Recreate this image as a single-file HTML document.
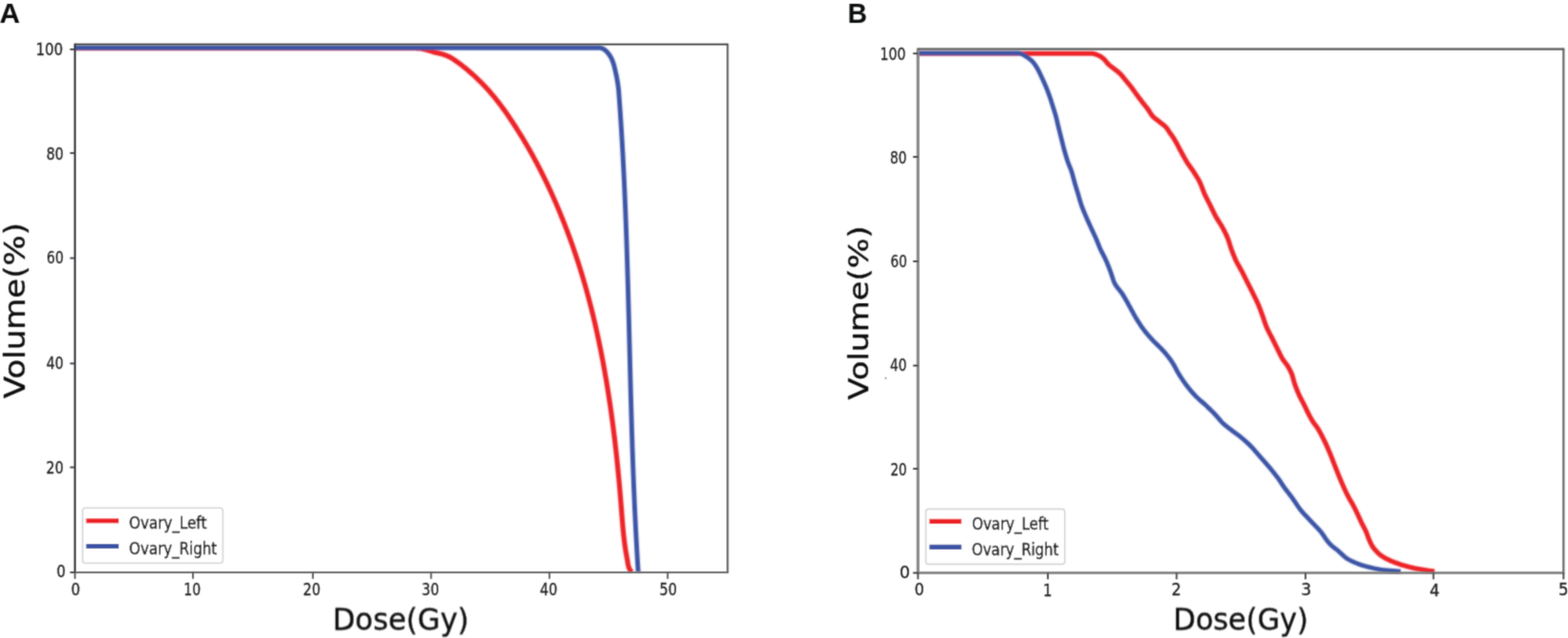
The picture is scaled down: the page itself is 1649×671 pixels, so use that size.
<!DOCTYPE html>
<html><head><meta charset="utf-8"><title>DVH</title>
<style>
html,body{margin:0;padding:0;background:#fff;}
body{width:1649px;height:671px;overflow:hidden;}
svg{display:block;}
</style></head>
<body>
<svg width="1649" height="671" viewBox="0 0 1649 671">
<defs>
<filter id="bl" filterUnits="userSpaceOnUse" x="0" y="0" width="1649" height="671"><feConvolveMatrix order="3" kernelMatrix="1 4 1 4 16 4 1 4 1" divisor="36" edgeMode="none" preserveAlpha="false"/></filter>
<filter id="cb" filterUnits="userSpaceOnUse" x="0" y="0" width="1649" height="671"><feConvolveMatrix order="5" kernelMatrix="1 6 15 6 1 6 36 90 36 6 15 90 225 90 15 6 36 90 36 6 1 6 15 6 1" divisor="841" edgeMode="none" preserveAlpha="false"/></filter>
</defs>
<rect x="0" y="0" width="1649" height="671" fill="#fff"/>
<clipPath id="clA"><rect x="78.8" y="46.6" width="686.4" height="555.4"/></clipPath>
<clipPath id="clB"><rect x="965.4" y="51.6" width="678.9" height="550.9"/></clipPath>
<g id="curves" filter="url(#cb)">
<g clip-path="url(#clA)"><path d="M78.70,50.70 L425.00,50.70 L425.00,50.70 L426.50,50.70 L428.00,50.70 L429.50,50.70 L431.00,50.70 L432.50,50.70 L434.00,50.70 L435.50,50.72 L437.01,50.76 L438.51,50.80 L440.00,50.86 L441.49,50.93 L442.96,51.11 L444.43,51.40 L445.90,51.76 L447.36,52.17 L448.81,52.58 L450.26,52.97 L451.70,53.38 L453.14,53.83 L454.57,54.29 L456.00,54.74 L457.44,55.15 L458.89,55.51 L460.36,55.81 L461.84,56.11 L463.30,56.43 L464.75,56.80 L466.20,57.23 L467.63,57.70 L469.04,58.21 L470.41,58.78 L471.75,59.40 L473.07,60.09 L474.37,60.83 L475.66,61.62 L476.93,62.44 L478.19,63.28 L479.44,64.14 L480.68,65.00 L481.91,65.86 L483.13,66.72 L484.33,67.63 L485.51,68.55 L486.69,69.49 L487.86,70.42 L489.03,71.36 L490.19,72.31 L491.34,73.27 L492.49,74.24 L493.63,75.21 L494.76,76.20 L495.89,77.19 L497.01,78.19 L498.12,79.19 L499.22,80.21 L500.32,81.23 L501.41,82.26 L502.49,83.29 L503.57,84.34 L504.64,85.39 L505.70,86.45 L506.76,87.52 L507.80,88.59 L508.84,89.67 L509.87,90.76 L510.90,91.86 L511.91,92.96 L512.92,94.07 L513.92,95.19 L514.92,96.31 L515.90,97.44 L516.88,98.58 L517.85,99.72 L518.81,100.87 L519.77,102.03 L520.72,103.19 L521.66,104.36 L522.59,105.53 L523.51,106.71 L524.43,107.90 L525.34,109.09 L526.25,110.28 L527.15,111.49 L528.04,112.69 L528.92,113.90 L529.80,115.12 L530.68,116.34 L531.54,117.56 L532.41,118.79 L533.26,120.02 L534.12,121.25 L534.96,122.49 L535.81,123.73 L536.64,124.97 L537.48,126.22 L538.31,127.47 L539.14,128.72 L539.96,129.97 L540.78,131.23 L541.60,132.49 L542.41,133.75 L543.22,135.01 L544.02,136.27 L544.82,137.54 L545.62,138.81 L546.41,140.08 L547.20,141.36 L547.99,142.64 L548.77,143.92 L549.55,145.20 L550.33,146.48 L551.10,147.77 L551.86,149.06 L552.63,150.35 L553.39,151.64 L554.14,152.94 L554.90,154.23 L555.64,155.53 L556.39,156.83 L557.13,158.14 L557.87,159.44 L558.60,160.75 L559.33,162.06 L560.06,163.37 L560.78,164.69 L561.50,166.00 L562.21,167.32 L562.93,168.64 L563.63,169.96 L564.34,171.29 L565.04,172.61 L565.73,173.94 L566.43,175.27 L567.12,176.60 L567.80,177.94 L568.49,179.27 L569.16,180.61 L569.84,181.95 L570.51,183.29 L571.18,184.63 L571.84,185.98 L572.50,187.32 L573.16,188.67 L573.82,190.02 L574.47,191.37 L575.11,192.73 L575.76,194.08 L576.40,195.44 L577.03,196.79 L577.67,198.15 L578.30,199.51 L578.92,200.88 L579.55,202.24 L580.17,203.61 L580.78,204.97 L581.40,206.34 L582.01,207.71 L582.61,209.08 L583.22,210.46 L583.82,211.83 L584.42,213.21 L585.01,214.58 L585.60,215.96 L586.19,217.34 L586.77,218.72 L587.36,220.10 L587.94,221.49 L588.51,222.87 L589.08,224.26 L589.65,225.65 L590.22,227.03 L590.78,228.42 L591.34,229.81 L591.90,231.21 L592.45,232.60 L593.01,234.00 L593.55,235.39 L594.10,236.79 L594.64,238.19 L595.18,239.59 L595.72,240.99 L596.25,242.39 L596.78,243.79 L597.30,245.20 L597.83,246.60 L598.35,248.01 L598.87,249.42 L599.38,250.82 L599.89,252.23 L600.40,253.64 L600.91,255.06 L601.41,256.47 L601.91,257.88 L602.40,259.30 L602.90,260.71 L603.39,262.13 L603.88,263.55 L604.36,264.97 L604.84,266.39 L605.32,267.81 L605.80,269.23 L606.27,270.66 L606.74,272.08 L607.20,273.51 L607.67,274.93 L608.13,276.36 L608.59,277.79 L609.04,279.22 L609.49,280.65 L609.94,282.08 L610.39,283.51 L610.83,284.94 L611.27,286.38 L611.71,287.81 L612.14,289.25 L612.58,290.68 L613.01,292.12 L613.43,293.56 L613.85,295.00 L614.28,296.43 L614.69,297.87 L615.11,299.32 L615.52,300.76 L615.93,302.20 L616.34,303.64 L616.74,305.09 L617.14,306.53 L617.54,307.98 L617.93,309.43 L618.33,310.87 L618.72,312.32 L619.10,313.77 L619.49,315.22 L619.87,316.67 L620.25,318.12 L620.63,319.57 L621.00,321.02 L621.37,322.48 L621.74,323.93 L622.11,325.39 L622.47,326.84 L622.83,328.30 L623.19,329.75 L623.54,331.21 L623.90,332.67 L624.25,334.13 L624.60,335.58 L624.94,337.04 L625.29,338.50 L625.63,339.96 L625.96,341.42 L626.30,342.89 L626.63,344.35 L626.96,345.81 L627.29,347.27 L627.62,348.74 L627.94,350.20 L628.26,351.67 L628.58,353.13 L628.90,354.60 L629.21,356.07 L629.52,357.53 L629.83,359.00 L630.14,360.47 L630.44,361.94 L630.74,363.41 L631.04,364.87 L631.34,366.34 L631.64,367.82 L631.93,369.29 L632.22,370.76 L632.51,372.23 L632.80,373.70 L633.08,375.17 L633.36,376.65 L633.64,378.12 L633.92,379.59 L634.20,381.07 L634.47,382.54 L634.74,384.02 L635.01,385.49 L635.28,386.97 L635.55,388.44 L635.81,389.92 L636.07,391.40 L636.33,392.87 L636.59,394.35 L636.85,395.83 L637.10,397.31 L637.35,398.78 L637.60,400.26 L637.85,401.74 L638.10,403.22 L638.34,404.70 L638.58,406.18 L638.82,407.66 L639.06,409.14 L639.30,410.62 L639.53,412.10 L639.77,413.59 L640.00,415.07 L640.23,416.55 L640.45,418.03 L640.68,419.51 L640.90,421.00 L641.13,422.48 L641.35,423.96 L641.57,425.45 L641.78,426.93 L642.00,428.42 L642.21,429.90 L642.42,431.38 L642.63,432.87 L642.84,434.35 L643.05,435.84 L643.25,437.33 L643.46,438.81 L643.66,440.30 L643.86,441.78 L644.06,443.27 L644.26,444.76 L644.45,446.24 L644.64,447.73 L644.84,449.22 L645.03,450.71 L645.21,452.19 L645.40,453.68 L645.59,455.17 L645.77,456.66 L645.95,458.15 L646.13,459.63 L646.31,461.12 L646.49,462.61 L646.67,464.10 L646.84,465.59 L647.02,467.08 L647.19,468.57 L647.36,470.06 L647.53,471.55 L647.69,473.04 L647.86,474.53 L648.02,476.02 L648.19,477.51 L648.35,479.00 L648.51,480.50 L648.67,481.99 L648.83,483.48 L648.98,484.97 L649.14,486.46 L649.29,487.95 L649.44,489.45 L649.59,490.94 L649.74,492.43 L649.89,493.92 L650.04,495.41 L650.18,496.91 L650.32,498.40 L650.47,499.89 L650.61,501.39 L650.75,502.88 L650.89,504.37 L651.02,505.87 L651.16,507.36 L651.30,508.85 L651.43,510.35 L651.56,511.84 L651.69,513.33 L651.82,514.83 L651.95,516.32 L652.08,517.82 L652.21,519.31 L652.33,520.80 L652.46,522.30 L652.58,523.79 L652.70,525.29 L652.83,526.78 L652.95,528.28 L653.07,529.77 L653.18,531.27 L653.30,532.76 L653.42,534.26 L653.53,535.75 L653.65,537.25 L653.76,538.74 L653.88,540.24 L653.99,541.73 L654.11,543.23 L654.22,544.73 L654.34,546.22 L654.46,547.71 L654.59,549.21 L654.71,550.70 L654.84,552.20 L654.97,553.69 L655.11,555.19 L655.24,556.68 L655.39,558.17 L655.53,559.66 L655.68,561.16 L655.84,562.65 L656.00,564.14 L656.17,565.63 L656.34,567.12 L656.52,568.61 L656.70,570.10 L656.90,571.58 L657.10,573.07 L657.30,574.56 L657.52,576.04 L657.74,577.52 L657.97,579.00 L658.21,580.49 L658.46,581.96 L658.71,583.44 L658.98,584.92 L659.25,586.39 L659.55,587.86 L659.83,589.34 L660.06,590.82 L660.29,592.31 L660.54,593.79 L660.86,595.24 L661.29,596.70 L661.85,598.12 L662.53,599.41 L663.45,600.56 L664.60,601.60" fill="none" stroke="#ed2227" stroke-width="5.2" stroke-linejoin="round" stroke-linecap="butt"/>
<path d="M78.70,50.30 L619.00,50.30 L619.00,50.30 L620.50,50.30 L621.99,50.30 L623.49,50.30 L624.99,50.30 L626.49,50.30 L628.00,50.30 L629.50,50.30 L630.98,50.30 L632.45,50.57 L633.86,51.14 L635.16,51.84 L636.37,52.76 L637.49,53.75 L638.54,54.82 L639.52,55.98 L640.42,57.16 L641.28,58.40 L642.08,59.68 L642.80,60.99 L643.43,62.33 L644.00,63.71 L644.54,65.12 L645.03,66.55 L645.47,67.98 L645.88,69.41 L646.25,70.86 L646.59,72.32 L646.92,73.79 L647.26,75.25 L647.60,76.71 L647.93,78.17 L648.25,79.63 L648.54,81.10 L648.81,82.57 L649.07,84.04 L649.32,85.52 L649.56,87.00 L649.78,88.48 L650.00,89.97 L650.20,91.45 L650.38,92.94 L650.54,94.43 L650.67,95.92 L650.78,97.41 L650.89,98.91 L651.00,100.40 L651.11,101.89 L651.22,103.39 L651.33,104.88 L651.44,106.37 L651.55,107.87 L651.66,109.36 L651.76,110.85 L651.87,112.35 L651.97,113.84 L652.08,115.33 L652.18,116.83 L652.28,118.32 L652.39,119.82 L652.49,121.31 L652.59,122.80 L652.69,124.30 L652.79,125.79 L652.88,127.29 L652.98,128.78 L653.08,130.28 L653.17,131.77 L653.27,133.27 L653.36,134.76 L653.46,136.25 L653.55,137.75 L653.64,139.24 L653.73,140.74 L653.82,142.23 L653.91,143.73 L654.00,145.22 L654.09,146.72 L654.18,148.21 L654.27,149.71 L654.35,151.20 L654.44,152.70 L654.52,154.19 L654.61,155.69 L654.69,157.18 L654.78,158.68 L654.86,160.17 L654.94,161.67 L655.02,163.16 L655.10,164.66 L655.18,166.15 L655.26,167.65 L655.34,169.14 L655.42,170.64 L655.50,172.14 L655.57,173.63 L655.65,175.13 L655.73,176.62 L655.80,178.12 L655.88,179.61 L655.95,181.11 L656.02,182.60 L656.10,184.10 L656.17,185.60 L656.24,187.09 L656.31,188.59 L656.38,190.08 L656.45,191.58 L656.52,193.07 L656.59,194.57 L656.66,196.07 L656.73,197.56 L656.79,199.06 L656.86,200.55 L656.93,202.05 L656.99,203.55 L657.06,205.04 L657.12,206.54 L657.19,208.03 L657.25,209.53 L657.31,211.03 L657.38,212.52 L657.44,214.02 L657.50,215.52 L657.56,217.01 L657.62,218.51 L657.68,220.00 L657.74,221.50 L657.80,223.00 L657.86,224.49 L657.92,225.99 L657.98,227.49 L658.04,228.98 L658.09,230.48 L658.15,231.97 L658.21,233.47 L658.26,234.97 L658.32,236.46 L658.37,237.96 L658.43,239.46 L658.48,240.95 L658.54,242.45 L658.59,243.95 L658.64,245.44 L658.70,246.94 L658.75,248.44 L658.80,249.93 L658.85,251.43 L658.91,252.93 L658.96,254.42 L659.01,255.92 L659.06,257.42 L659.11,258.91 L659.16,260.41 L659.21,261.91 L659.26,263.40 L659.30,264.90 L659.35,266.40 L659.40,267.89 L659.45,269.39 L659.50,270.89 L659.54,272.38 L659.59,273.88 L659.64,275.38 L659.68,276.87 L659.73,278.37 L659.78,279.87 L659.82,281.36 L659.87,282.86 L659.91,284.36 L659.96,285.85 L660.00,287.35 L660.04,288.85 L660.09,290.34 L660.13,291.84 L660.18,293.34 L660.22,294.83 L660.26,296.33 L660.30,297.83 L660.35,299.32 L660.39,300.82 L660.43,302.32 L660.47,303.82 L660.52,305.31 L660.56,306.81 L660.60,308.31 L660.64,309.80 L660.68,311.30 L660.72,312.80 L660.76,314.29 L660.80,315.79 L660.84,317.29 L660.88,318.78 L660.92,320.28 L660.96,321.78 L661.00,323.28 L661.04,324.77 L661.08,326.27 L661.12,327.77 L661.16,329.26 L661.20,330.76 L661.24,332.26 L661.28,333.75 L661.32,335.25 L661.36,336.75 L661.40,338.25 L661.44,339.74 L661.47,341.24 L661.51,342.74 L661.55,344.23 L661.59,345.73 L661.63,347.23 L661.67,348.72 L661.70,350.22 L661.74,351.72 L661.78,353.21 L661.82,354.71 L661.86,356.21 L661.89,357.71 L661.93,359.20 L661.97,360.70 L662.01,362.20 L662.05,363.69 L662.08,365.19 L662.12,366.69 L662.16,368.18 L662.20,369.68 L662.24,371.18 L662.27,372.68 L662.31,374.17 L662.35,375.67 L662.39,377.17 L662.43,378.66 L662.46,380.16 L662.50,381.66 L662.54,383.15 L662.58,384.65 L662.62,386.15 L662.66,387.65 L662.69,389.14 L662.73,390.64 L662.77,392.14 L662.81,393.63 L662.85,395.13 L662.89,396.63 L662.93,398.12 L662.97,399.62 L663.01,401.12 L663.04,402.62 L663.08,404.11 L663.12,405.61 L663.16,407.11 L663.20,408.60 L663.24,410.10 L663.28,411.60 L663.32,413.09 L663.36,414.59 L663.40,416.09 L663.45,417.58 L663.49,419.08 L663.53,420.58 L663.57,422.08 L663.61,423.57 L663.65,425.07 L663.69,426.57 L663.74,428.06 L663.78,429.56 L663.82,431.06 L663.86,432.55 L663.91,434.05 L663.95,435.55 L663.99,437.04 L664.04,438.54 L664.08,440.04 L664.12,441.53 L664.17,443.03 L664.21,444.53 L664.26,446.02 L664.30,447.52 L664.35,449.02 L664.39,450.52 L664.44,452.01 L664.48,453.51 L664.53,455.01 L664.58,456.50 L664.62,458.00 L664.67,459.50 L664.72,460.99 L664.77,462.49 L664.81,463.99 L664.86,465.48 L664.91,466.98 L664.96,468.48 L665.01,469.97 L665.06,471.47 L665.11,472.97 L665.16,474.46 L665.21,475.96 L665.26,477.46 L665.31,478.95 L665.36,480.45 L665.42,481.95 L665.47,483.44 L665.52,484.94 L665.58,486.44 L665.63,487.93 L665.68,489.43 L665.74,490.92 L665.79,492.42 L665.85,493.92 L665.90,495.41 L665.96,496.91 L666.02,498.41 L666.07,499.90 L666.13,501.40 L666.19,502.90 L666.25,504.39 L666.30,505.89 L666.36,507.38 L666.42,508.88 L666.48,510.38 L666.54,511.87 L666.60,513.37 L666.67,514.87 L666.73,516.36 L666.79,517.86 L666.85,519.35 L666.92,520.85 L666.98,522.35 L667.04,523.84 L667.11,525.34 L667.17,526.84 L667.24,528.33 L667.30,529.83 L667.37,531.32 L667.44,532.82 L667.51,534.32 L667.58,535.81 L667.64,537.31 L667.71,538.80 L667.78,540.30 L667.85,541.79 L667.93,543.29 L668.00,544.79 L668.07,546.28 L668.14,547.78 L668.22,549.27 L668.29,550.77 L668.36,552.26 L668.44,553.76 L668.51,555.26 L668.59,556.75 L668.67,558.25 L668.75,559.74 L668.82,561.24 L668.90,562.73 L668.98,564.23 L669.06,565.72 L669.14,567.22 L669.22,568.71 L669.30,570.21 L669.39,571.70 L669.47,573.20 L669.55,574.69 L669.64,576.19 L669.72,577.68 L669.81,579.18 L669.90,580.67 L669.98,582.17 L670.07,583.66 L670.16,585.16 L670.25,586.65 L670.34,588.15 L670.43,589.64 L670.52,591.14 L670.61,592.63 L670.71,594.13 L670.80,595.62 L670.89,597.12 L670.99,598.61 L671.08,600.11 L671.18,601.60" fill="none" stroke="#3a53a5" stroke-width="4.9" stroke-linejoin="round" stroke-linecap="butt"/></g>
<g clip-path="url(#clB)"><path d="M965.50,56.20 L1136.00,56.20 L1136.00,56.20 L1137.50,56.20 L1139.00,56.20 L1140.49,56.20 L1141.99,56.20 L1143.49,56.20 L1145.00,56.20 L1146.50,56.20 L1147.98,56.20 L1149.46,56.34 L1150.94,56.70 L1152.38,57.18 L1153.79,57.70 L1155.16,58.26 L1156.52,58.94 L1157.83,59.72 L1159.08,60.57 L1160.23,61.45 L1161.29,62.47 L1162.28,63.61 L1163.23,64.79 L1164.20,65.98 L1165.20,67.11 L1166.28,68.13 L1167.42,69.09 L1168.60,70.02 L1169.79,70.93 L1170.99,71.84 L1172.17,72.77 L1173.37,73.68 L1174.57,74.59 L1175.76,75.51 L1176.90,76.47 L1177.98,77.48 L1179.01,78.56 L1179.99,79.69 L1180.94,80.85 L1181.88,82.03 L1182.81,83.21 L1183.76,84.37 L1184.72,85.52 L1185.68,86.67 L1186.64,87.82 L1187.60,88.98 L1188.54,90.15 L1189.46,91.32 L1190.37,92.51 L1191.25,93.72 L1192.13,94.94 L1192.99,96.16 L1193.86,97.39 L1194.73,98.61 L1195.61,99.82 L1196.51,101.02 L1197.40,102.22 L1198.31,103.41 L1199.21,104.61 L1200.12,105.80 L1201.03,106.99 L1201.95,108.18 L1202.87,109.35 L1203.81,110.52 L1204.75,111.70 L1205.67,112.87 L1206.59,114.06 L1207.47,115.26 L1208.31,116.51 L1209.11,117.80 L1209.90,119.10 L1210.71,120.36 L1211.59,121.54 L1212.57,122.62 L1213.66,123.62 L1214.81,124.58 L1216.01,125.51 L1217.22,126.42 L1218.42,127.35 L1219.59,128.30 L1220.78,129.23 L1221.99,130.15 L1223.18,131.07 L1224.35,132.02 L1225.44,133.02 L1226.45,134.08 L1227.36,135.24 L1228.22,136.47 L1229.04,137.74 L1229.87,139.01 L1230.72,140.25 L1231.59,141.47 L1232.48,142.68 L1233.34,143.91 L1234.18,145.14 L1234.97,146.41 L1235.73,147.69 L1236.47,149.00 L1237.19,150.31 L1237.89,151.63 L1238.59,152.96 L1239.28,154.30 L1239.98,155.62 L1240.69,156.95 L1241.41,158.26 L1242.12,159.58 L1242.83,160.90 L1243.54,162.22 L1244.25,163.55 L1244.97,164.86 L1245.69,166.17 L1246.43,167.47 L1247.19,168.76 L1247.97,170.04 L1248.78,171.29 L1249.62,172.53 L1250.48,173.76 L1251.35,174.98 L1252.22,176.21 L1253.09,177.43 L1253.95,178.66 L1254.79,179.90 L1255.60,181.16 L1256.40,182.42 L1257.20,183.69 L1258.00,184.97 L1258.79,186.25 L1259.56,187.54 L1260.30,188.84 L1261.02,190.15 L1261.70,191.48 L1262.33,192.83 L1262.92,194.19 L1263.48,195.58 L1264.02,196.98 L1264.55,198.39 L1265.08,199.80 L1265.62,201.20 L1266.18,202.59 L1266.77,203.97 L1267.40,205.32 L1268.05,206.67 L1268.71,208.01 L1269.39,209.35 L1270.08,210.68 L1270.77,212.02 L1271.46,213.35 L1272.14,214.68 L1272.81,216.02 L1273.47,217.37 L1274.12,218.72 L1274.77,220.07 L1275.42,221.42 L1276.08,222.77 L1276.74,224.11 L1277.41,225.45 L1278.10,226.78 L1278.82,228.09 L1279.56,229.39 L1280.34,230.67 L1281.13,231.94 L1281.93,233.21 L1282.74,234.48 L1283.54,235.75 L1284.33,237.02 L1285.08,238.31 L1285.81,239.62 L1286.52,240.94 L1287.21,242.27 L1287.90,243.60 L1288.58,244.95 L1289.23,246.30 L1289.86,247.66 L1290.47,249.03 L1291.04,250.41 L1291.58,251.80 L1292.08,253.20 L1292.55,254.63 L1293.00,256.06 L1293.44,257.49 L1293.89,258.93 L1294.36,260.35 L1294.85,261.77 L1295.37,263.17 L1295.89,264.58 L1296.42,265.98 L1296.97,267.38 L1297.53,268.77 L1298.10,270.16 L1298.69,271.54 L1299.29,272.90 L1299.92,274.26 L1300.57,275.60 L1301.27,276.92 L1301.98,278.24 L1302.72,279.55 L1303.46,280.85 L1304.20,282.16 L1304.94,283.47 L1305.66,284.78 L1306.36,286.11 L1307.05,287.44 L1307.73,288.77 L1308.40,290.11 L1309.07,291.45 L1309.74,292.79 L1310.41,294.13 L1311.08,295.47 L1311.75,296.81 L1312.43,298.15 L1313.10,299.48 L1313.78,300.82 L1314.46,302.15 L1315.14,303.49 L1315.82,304.82 L1316.49,306.16 L1317.16,307.50 L1317.83,308.84 L1318.49,310.19 L1319.15,311.53 L1319.81,312.88 L1320.47,314.23 L1321.13,315.58 L1321.77,316.93 L1322.40,318.29 L1323.01,319.66 L1323.60,321.03 L1324.16,322.41 L1324.71,323.81 L1325.25,325.21 L1325.77,326.61 L1326.29,328.02 L1326.80,329.43 L1327.31,330.84 L1327.83,332.24 L1328.32,333.66 L1328.81,335.08 L1329.28,336.51 L1329.76,337.93 L1330.24,339.35 L1330.73,340.76 L1331.25,342.17 L1331.80,343.55 L1332.38,344.92 L1333.01,346.28 L1333.66,347.63 L1334.34,348.96 L1335.03,350.30 L1335.73,351.62 L1336.43,352.95 L1337.13,354.28 L1337.81,355.62 L1338.48,356.96 L1339.14,358.30 L1339.81,359.65 L1340.47,360.99 L1341.13,362.33 L1341.80,363.68 L1342.46,365.02 L1343.13,366.36 L1343.80,367.70 L1344.46,369.05 L1345.11,370.40 L1345.76,371.76 L1346.41,373.11 L1347.09,374.45 L1347.78,375.77 L1348.52,377.07 L1349.32,378.32 L1350.19,379.54 L1351.10,380.74 L1352.02,381.93 L1352.94,383.13 L1353.81,384.35 L1354.60,385.60 L1355.35,386.90 L1356.08,388.21 L1356.78,389.55 L1357.44,390.90 L1358.06,392.27 L1358.61,393.66 L1359.09,395.06 L1359.51,396.49 L1359.90,397.95 L1360.28,399.40 L1360.68,400.85 L1361.12,402.28 L1361.60,403.70 L1362.09,405.12 L1362.60,406.53 L1363.12,407.94 L1363.66,409.34 L1364.22,410.73 L1364.79,412.12 L1365.37,413.49 L1365.97,414.86 L1366.60,416.21 L1367.26,417.56 L1367.93,418.90 L1368.62,420.23 L1369.31,421.56 L1370.01,422.89 L1370.70,424.22 L1371.38,425.56 L1372.04,426.90 L1372.70,428.25 L1373.35,429.60 L1374.00,430.95 L1374.65,432.30 L1375.31,433.65 L1375.98,434.99 L1376.66,436.32 L1377.37,437.64 L1378.09,438.95 L1378.82,440.26 L1379.57,441.56 L1380.35,442.84 L1381.15,444.11 L1381.98,445.35 L1382.89,446.54 L1383.82,447.72 L1384.73,448.91 L1385.56,450.15 L1386.34,451.42 L1387.11,452.71 L1387.85,454.01 L1388.57,455.33 L1389.28,456.66 L1389.97,457.99 L1390.65,459.33 L1391.33,460.66 L1392.00,462.00 L1392.66,463.34 L1393.31,464.69 L1393.95,466.05 L1394.59,467.41 L1395.21,468.77 L1395.82,470.14 L1396.43,471.51 L1397.03,472.88 L1397.63,474.26 L1398.21,475.63 L1398.78,477.02 L1399.35,478.40 L1399.90,479.80 L1400.45,481.19 L1400.99,482.59 L1401.53,483.99 L1402.07,485.38 L1402.61,486.78 L1403.16,488.18 L1403.71,489.57 L1404.26,490.96 L1404.82,492.36 L1405.37,493.75 L1405.92,495.14 L1406.47,496.54 L1407.02,497.93 L1407.58,499.32 L1408.14,500.71 L1408.71,502.09 L1409.28,503.48 L1409.87,504.86 L1410.45,506.23 L1411.04,507.61 L1411.64,508.99 L1412.23,510.37 L1412.84,511.74 L1413.45,513.11 L1414.07,514.47 L1414.69,515.83 L1415.33,517.19 L1415.98,518.54 L1416.64,519.88 L1417.32,521.21 L1418.03,522.53 L1418.75,523.84 L1419.49,525.15 L1420.23,526.45 L1420.98,527.75 L1421.72,529.05 L1422.47,530.36 L1423.19,531.66 L1423.91,532.98 L1424.60,534.31 L1425.27,535.64 L1425.93,536.99 L1426.58,538.34 L1427.21,539.70 L1427.84,541.06 L1428.46,542.42 L1429.09,543.78 L1429.71,545.15 L1430.34,546.51 L1430.97,547.87 L1431.62,549.22 L1432.28,550.56 L1432.96,551.90 L1433.66,553.23 L1434.36,554.55 L1435.05,555.88 L1435.72,557.22 L1436.36,558.58 L1436.94,559.95 L1437.49,561.34 L1438.01,562.75 L1438.52,564.16 L1439.05,565.57 L1439.60,566.96 L1440.19,568.33 L1440.81,569.70 L1441.45,571.07 L1442.12,572.42 L1442.83,573.74 L1443.60,575.00 L1444.45,576.22 L1445.38,577.40 L1446.36,578.55 L1447.39,579.66 L1448.42,580.73 L1449.49,581.79 L1450.61,582.81 L1451.76,583.77 L1452.95,584.65 L1454.19,585.46 L1455.47,586.23 L1456.79,586.97 L1458.13,587.67 L1459.48,588.34 L1460.84,588.99 L1462.19,589.62 L1463.56,590.22 L1464.94,590.80 L1466.33,591.36 L1467.74,591.90 L1469.14,592.42 L1470.55,592.92 L1471.97,593.40 L1473.40,593.85 L1474.83,594.29 L1476.27,594.72 L1477.71,595.13 L1479.16,595.53 L1480.60,595.93 L1482.05,596.31 L1483.50,596.69 L1484.96,597.05 L1486.41,597.39 L1487.88,597.71 L1489.34,598.01 L1490.81,598.30 L1492.29,598.57 L1493.76,598.83 L1495.24,599.08 L1496.72,599.31 L1498.20,599.54 L1499.68,599.76 L1501.17,599.97 L1502.65,600.17 L1504.13,600.37 L1505.62,600.56 L1507.11,600.73 L1508.60,600.90" fill="none" stroke="#ed2227" stroke-width="5.0" stroke-linejoin="round" stroke-linecap="butt"/>
<path d="M965.50,55.80 L1059.00,55.80 L1059.00,55.80 L1060.50,55.80 L1062.00,55.80 L1063.49,55.80 L1064.99,55.80 L1066.50,55.80 L1068.01,55.80 L1069.51,55.80 L1070.98,55.80 L1072.44,56.02 L1073.87,56.56 L1075.26,57.19 L1076.59,57.84 L1077.88,58.61 L1079.14,59.45 L1080.37,60.30 L1081.61,61.17 L1082.82,62.07 L1084.00,63.02 L1085.11,64.01 L1086.13,65.06 L1087.10,66.19 L1088.01,67.38 L1088.88,68.63 L1089.70,69.90 L1090.48,71.17 L1091.23,72.46 L1091.94,73.78 L1092.61,75.11 L1093.27,76.46 L1093.91,77.83 L1094.55,79.19 L1095.18,80.55 L1095.82,81.90 L1096.46,83.26 L1097.09,84.62 L1097.71,85.98 L1098.32,87.35 L1098.92,88.72 L1099.52,90.10 L1100.09,91.48 L1100.65,92.86 L1101.20,94.26 L1101.75,95.66 L1102.27,97.06 L1102.79,98.46 L1103.30,99.87 L1103.80,101.28 L1104.28,102.70 L1104.76,104.12 L1105.22,105.55 L1105.68,106.97 L1106.13,108.40 L1106.58,109.83 L1107.03,111.26 L1107.48,112.69 L1107.94,114.11 L1108.39,115.54 L1108.84,116.97 L1109.28,118.40 L1109.71,119.84 L1110.13,121.28 L1110.52,122.72 L1110.89,124.17 L1111.26,125.62 L1111.61,127.08 L1111.95,128.54 L1112.29,130.00 L1112.63,131.45 L1112.98,132.91 L1113.34,134.37 L1113.70,135.82 L1114.06,137.27 L1114.42,138.73 L1114.79,140.18 L1115.15,141.63 L1115.52,143.08 L1115.88,144.54 L1116.25,145.99 L1116.61,147.44 L1116.97,148.90 L1117.32,150.35 L1117.68,151.81 L1118.04,153.26 L1118.41,154.72 L1118.79,156.16 L1119.18,157.61 L1119.58,159.05 L1119.98,160.49 L1120.40,161.93 L1120.83,163.37 L1121.26,164.80 L1121.71,166.24 L1122.16,167.66 L1122.63,169.08 L1123.11,170.50 L1123.63,171.90 L1124.17,173.30 L1124.73,174.69 L1125.29,176.09 L1125.84,177.48 L1126.37,178.88 L1126.87,180.29 L1127.32,181.71 L1127.75,183.15 L1128.15,184.59 L1128.53,186.04 L1128.91,187.49 L1129.29,188.94 L1129.68,190.39 L1130.08,191.83 L1130.50,193.27 L1130.93,194.71 L1131.36,196.14 L1131.80,197.57 L1132.23,199.00 L1132.67,200.44 L1133.11,201.87 L1133.55,203.30 L1133.98,204.74 L1134.40,206.18 L1134.81,207.62 L1135.22,209.06 L1135.64,210.50 L1136.06,211.94 L1136.50,213.37 L1136.96,214.79 L1137.44,216.21 L1137.95,217.61 L1138.48,219.01 L1139.03,220.40 L1139.60,221.79 L1140.18,223.18 L1140.76,224.56 L1141.35,225.94 L1141.94,227.31 L1142.52,228.69 L1143.12,230.07 L1143.72,231.44 L1144.33,232.81 L1144.94,234.17 L1145.55,235.54 L1146.17,236.90 L1146.79,238.27 L1147.41,239.63 L1148.04,240.99 L1148.67,242.35 L1149.31,243.70 L1149.96,245.06 L1150.60,246.41 L1151.23,247.77 L1151.85,249.13 L1152.47,250.50 L1153.06,251.87 L1153.64,253.25 L1154.20,254.64 L1154.76,256.03 L1155.31,257.43 L1155.88,258.81 L1156.45,260.20 L1157.05,261.57 L1157.67,262.93 L1158.33,264.27 L1159.00,265.61 L1159.69,266.94 L1160.38,268.27 L1161.07,269.61 L1161.75,270.94 L1162.40,272.29 L1163.03,273.65 L1163.63,275.02 L1164.22,276.39 L1164.79,277.78 L1165.35,279.17 L1165.90,280.56 L1166.44,281.96 L1166.98,283.36 L1167.51,284.76 L1168.03,286.16 L1168.53,287.58 L1169.00,289.02 L1169.46,290.47 L1169.91,291.91 L1170.38,293.35 L1170.87,294.76 L1171.41,296.14 L1172.00,297.48 L1172.66,298.78 L1173.42,300.03 L1174.26,301.26 L1175.16,302.46 L1176.10,303.65 L1177.06,304.83 L1178.02,306.01 L1178.96,307.20 L1179.86,308.42 L1180.71,309.65 L1181.50,310.92 L1182.27,312.20 L1183.03,313.49 L1183.77,314.79 L1184.50,316.10 L1185.23,317.41 L1185.95,318.73 L1186.67,320.04 L1187.40,321.35 L1188.13,322.66 L1188.86,323.97 L1189.57,325.29 L1190.28,326.61 L1190.99,327.93 L1191.71,329.24 L1192.43,330.55 L1193.17,331.86 L1193.92,333.15 L1194.68,334.44 L1195.46,335.72 L1196.24,337.00 L1197.03,338.28 L1197.83,339.55 L1198.65,340.81 L1199.47,342.06 L1200.32,343.30 L1201.17,344.52 L1202.05,345.73 L1202.94,346.92 L1203.86,348.10 L1204.80,349.27 L1205.75,350.43 L1206.72,351.57 L1207.70,352.71 L1208.69,353.84 L1209.70,354.96 L1210.70,356.07 L1211.71,357.17 L1212.73,358.27 L1213.77,359.34 L1214.83,360.40 L1215.91,361.45 L1216.99,362.49 L1218.07,363.53 L1219.14,364.57 L1220.20,365.63 L1221.24,366.71 L1222.26,367.81 L1223.27,368.91 L1224.27,370.03 L1225.26,371.16 L1226.24,372.30 L1227.19,373.45 L1228.13,374.61 L1229.05,375.79 L1229.94,376.99 L1230.82,378.21 L1231.68,379.44 L1232.52,380.68 L1233.34,381.94 L1234.13,383.21 L1234.88,384.50 L1235.60,385.81 L1236.30,387.14 L1237.00,388.46 L1237.71,389.79 L1238.43,391.10 L1239.19,392.39 L1239.97,393.67 L1240.75,394.95 L1241.55,396.22 L1242.36,397.48 L1243.18,398.74 L1244.01,399.99 L1244.86,401.23 L1245.72,402.45 L1246.59,403.66 L1247.49,404.85 L1248.39,406.04 L1249.32,407.22 L1250.25,408.39 L1251.21,409.56 L1252.17,410.71 L1253.15,411.85 L1254.14,412.98 L1255.15,414.09 L1256.16,415.19 L1257.19,416.28 L1258.23,417.34 L1259.30,418.38 L1260.39,419.40 L1261.50,420.41 L1262.62,421.40 L1263.75,422.39 L1264.88,423.38 L1266.01,424.37 L1267.13,425.37 L1268.24,426.38 L1269.33,427.41 L1270.41,428.44 L1271.49,429.48 L1272.57,430.53 L1273.64,431.57 L1274.70,432.63 L1275.76,433.69 L1276.80,434.76 L1277.84,435.84 L1278.86,436.94 L1279.86,438.06 L1280.83,439.21 L1281.81,440.36 L1282.78,441.50 L1283.76,442.64 L1284.77,443.75 L1285.79,444.82 L1286.86,445.86 L1287.97,446.85 L1289.11,447.80 L1290.28,448.74 L1291.48,449.65 L1292.68,450.55 L1293.89,451.45 L1295.09,452.36 L1296.28,453.27 L1297.48,454.17 L1298.68,455.06 L1299.89,455.94 L1301.10,456.83 L1302.30,457.73 L1303.49,458.64 L1304.66,459.57 L1305.82,460.51 L1306.97,461.47 L1308.12,462.44 L1309.26,463.42 L1310.39,464.41 L1311.50,465.41 L1312.59,466.43 L1313.67,467.47 L1314.72,468.52 L1315.76,469.59 L1316.78,470.68 L1317.79,471.79 L1318.79,472.91 L1319.78,474.03 L1320.76,475.17 L1321.74,476.30 L1322.72,477.44 L1323.70,478.58 L1324.68,479.72 L1325.67,480.85 L1326.66,481.97 L1327.65,483.09 L1328.64,484.22 L1329.63,485.34 L1330.62,486.47 L1331.61,487.59 L1332.59,488.73 L1333.57,489.86 L1334.54,491.00 L1335.51,492.14 L1336.47,493.29 L1337.42,494.45 L1338.36,495.61 L1339.29,496.78 L1340.22,497.96 L1341.14,499.14 L1342.06,500.33 L1342.96,501.52 L1343.85,502.73 L1344.74,503.94 L1345.61,505.15 L1346.45,506.39 L1347.28,507.64 L1348.09,508.90 L1348.91,510.15 L1349.75,511.39 L1350.61,512.62 L1351.49,513.82 L1352.39,515.02 L1353.30,516.21 L1354.22,517.40 L1355.14,518.58 L1356.06,519.76 L1356.97,520.95 L1357.88,522.14 L1358.77,523.35 L1359.64,524.56 L1360.50,525.80 L1361.34,527.04 L1362.17,528.29 L1362.99,529.55 L1363.82,530.80 L1364.66,532.04 L1365.52,533.27 L1366.39,534.48 L1367.29,535.66 L1368.23,536.83 L1369.19,537.97 L1370.17,539.09 L1371.17,540.21 L1372.19,541.31 L1373.21,542.40 L1374.25,543.49 L1375.28,544.58 L1376.31,545.67 L1377.34,546.77 L1378.36,547.87 L1379.38,548.97 L1380.41,550.06 L1381.46,551.14 L1382.51,552.21 L1383.56,553.29 L1384.60,554.37 L1385.63,555.46 L1386.65,556.56 L1387.65,557.67 L1388.63,558.80 L1389.58,559.94 L1390.49,561.12 L1391.35,562.34 L1392.18,563.59 L1393.01,564.85 L1393.84,566.09 L1394.73,567.30 L1395.63,568.50 L1396.55,569.69 L1397.51,570.86 L1398.50,571.97 L1399.53,573.03 L1400.63,574.03 L1401.77,574.99 L1402.95,575.92 L1404.14,576.84 L1405.34,577.76 L1406.52,578.69 L1407.68,579.65 L1408.80,580.65 L1409.91,581.68 L1411.00,582.73 L1412.10,583.78 L1413.21,584.80 L1414.34,585.78 L1415.50,586.70 L1416.70,587.54 L1417.96,588.30 L1419.26,589.02 L1420.60,589.71 L1421.97,590.35 L1423.35,590.97 L1424.74,591.56 L1426.12,592.13 L1427.51,592.68 L1428.92,593.20 L1430.33,593.70 L1431.75,594.18 L1433.18,594.64 L1434.61,595.07 L1436.05,595.49 L1437.49,595.89 L1438.94,596.28 L1440.40,596.64 L1441.85,597.00 L1443.31,597.33 L1444.77,597.67 L1446.23,598.00 L1447.70,598.32 L1449.17,598.62 L1450.64,598.90 L1452.12,599.13 L1453.60,599.33 L1455.08,599.50 L1456.58,599.65 L1458.07,599.80 L1459.56,599.93 L1461.05,600.06 L1462.55,600.19 L1464.04,600.32 L1465.53,600.45 L1467.02,600.57 L1468.52,600.68 L1470.01,600.79 L1471.51,600.90 L1473.00,601.00" fill="none" stroke="#3a53a5" stroke-width="4.7" stroke-linejoin="round" stroke-linecap="butt"/></g>
</g>
<g filter="url(#bl)">
<g id="panelA">
<line x1="78.80" y1="45.75" x2="78.80" y2="603.10" stroke="#2e3034" stroke-width="2.0"/>
<line x1="765.20" y1="45.75" x2="765.20" y2="603.10" stroke="#686868" stroke-width="2.2"/>
<line x1="78.80" y1="46.60" x2="765.20" y2="46.60" stroke="#353535" stroke-width="1.7"/>
<line x1="78.80" y1="602.00" x2="765.20" y2="602.00" stroke="#6a6a6a" stroke-width="2.2"/>
<line x1="73.60" y1="602.00" x2="78.80" y2="602.00" stroke="#3a3c40" stroke-width="1.8"/>
<line x1="73.60" y1="491.50" x2="78.80" y2="491.50" stroke="#3a3c40" stroke-width="1.8"/>
<line x1="73.60" y1="382.30" x2="78.80" y2="382.30" stroke="#3a3c40" stroke-width="1.8"/>
<line x1="73.60" y1="271.50" x2="78.80" y2="271.50" stroke="#3a3c40" stroke-width="1.8"/>
<line x1="73.60" y1="161.00" x2="78.80" y2="161.00" stroke="#3a3c40" stroke-width="1.8"/>
<line x1="73.60" y1="51.90" x2="78.80" y2="51.90" stroke="#3a3c40" stroke-width="1.8"/>
<line x1="78.80" y1="602.00" x2="78.80" y2="608.80" stroke="#555555" stroke-width="1.8"/>
<line x1="202.90" y1="602.00" x2="202.90" y2="608.80" stroke="#555555" stroke-width="1.8"/>
<line x1="329.10" y1="602.00" x2="329.10" y2="608.80" stroke="#555555" stroke-width="1.8"/>
<line x1="453.40" y1="602.00" x2="453.40" y2="608.80" stroke="#555555" stroke-width="1.8"/>
<line x1="577.80" y1="602.00" x2="577.80" y2="608.80" stroke="#555555" stroke-width="1.8"/>
<line x1="702.20" y1="602.00" x2="702.20" y2="608.80" stroke="#555555" stroke-width="1.8"/>
<rect x="86.8" y="534.2" width="147.60" height="58.00" rx="3" ry="3" fill="#fff" stroke="#d4d6d8" stroke-width="1.6"/>
<line x1="90.6" y1="547.7" x2="124.9" y2="547.7" stroke="#ed2227" stroke-width="5.0" stroke-linecap="butt"/>
<line x1="90.6" y1="574.4" x2="124.9" y2="574.4" stroke="#3a53a5" stroke-width="5.0" stroke-linecap="butt"/>
</g>
<g id="panelB">
<line x1="965.40" y1="50.50" x2="965.40" y2="603.65" stroke="#8a8a8a" stroke-width="3.2"/>
<line x1="1644.30" y1="50.50" x2="1644.30" y2="603.65" stroke="#6c6c6c" stroke-width="2.3"/>
<line x1="965.40" y1="51.60" x2="1644.30" y2="51.60" stroke="#5a5a5a" stroke-width="2.2"/>
<line x1="965.40" y1="602.50" x2="1644.30" y2="602.50" stroke="#7a7a7a" stroke-width="2.3"/>
<line x1="960.20" y1="602.50" x2="965.40" y2="602.50" stroke="#2c2c2c" stroke-width="1.7"/>
<line x1="960.20" y1="493.00" x2="965.40" y2="493.00" stroke="#2c2c2c" stroke-width="1.7"/>
<line x1="960.20" y1="384.50" x2="965.40" y2="384.50" stroke="#2c2c2c" stroke-width="1.7"/>
<line x1="960.20" y1="274.80" x2="965.40" y2="274.80" stroke="#2c2c2c" stroke-width="1.7"/>
<line x1="960.20" y1="165.00" x2="965.40" y2="165.00" stroke="#2c2c2c" stroke-width="1.7"/>
<line x1="960.20" y1="56.30" x2="965.40" y2="56.30" stroke="#2c2c2c" stroke-width="1.7"/>
<line x1="965.40" y1="602.50" x2="965.40" y2="609.30" stroke="#4a4a4a" stroke-width="1.9"/>
<line x1="1102.00" y1="602.50" x2="1102.00" y2="609.30" stroke="#4a4a4a" stroke-width="1.9"/>
<line x1="1237.40" y1="602.50" x2="1237.40" y2="609.30" stroke="#4a4a4a" stroke-width="1.9"/>
<line x1="1372.90" y1="602.50" x2="1372.90" y2="609.30" stroke="#4a4a4a" stroke-width="1.9"/>
<line x1="1507.50" y1="602.50" x2="1507.50" y2="609.30" stroke="#4a4a4a" stroke-width="1.9"/>
<line x1="1644.30" y1="602.50" x2="1644.30" y2="609.30" stroke="#4a4a4a" stroke-width="1.9"/>
<rect x="973.6" y="535.4" width="146.20" height="58.00" rx="3" ry="3" fill="#fff" stroke="#d4d6d8" stroke-width="1.6"/>
<line x1="977.4" y1="548.3" x2="1011.2" y2="548.3" stroke="#ed2227" stroke-width="5.2" stroke-linecap="butt"/>
<line x1="977.4" y1="575.4" x2="1011.2" y2="575.4" stroke="#3a53a5" stroke-width="5.2" stroke-linecap="butt"/>
<circle cx="931.5" cy="397.7" r="0.9" fill="#777"/>
</g>
<g id="labels">
<text transform="translate(37.84,57.63) rotate(0.02) scale(0.8375,1)" font-size="17.70" font-weight="normal" fill="#222222" stroke="#222222" stroke-width="0.3" font-family="'DejaVu Sans', sans-serif">100</text>
<text transform="translate(48.74,168.33) rotate(0.02) scale(0.8049,1)" font-size="17.70" font-weight="normal" fill="#222222" stroke="#222222" stroke-width="0.3" font-family="'DejaVu Sans', sans-serif">80</text>
<text transform="translate(48.96,277.39) rotate(0.02) scale(0.7955,1)" font-size="17.70" font-weight="normal" fill="#222222" stroke="#222222" stroke-width="0.3" font-family="'DejaVu Sans', sans-serif">60</text>
<text transform="translate(48.76,387.68) rotate(0.02) scale(0.8023,1)" font-size="17.70" font-weight="normal" fill="#222222" stroke="#222222" stroke-width="0.3" font-family="'DejaVu Sans', sans-serif">40</text>
<text transform="translate(48.62,498.31) rotate(0.02) scale(0.8078,1)" font-size="17.70" font-weight="normal" fill="#222222" stroke="#222222" stroke-width="0.3" font-family="'DejaVu Sans', sans-serif">20</text>
<text transform="translate(59.58,607.26) rotate(0.02) scale(0.8448,1)" font-size="17.70" font-weight="normal" fill="#222222" stroke="#222222" stroke-width="0.3" font-family="'DejaVu Sans', sans-serif">0</text>
<text transform="translate(74.79,626.32) rotate(0.02) scale(0.8493,1)" font-size="17.70" font-weight="normal" fill="#222222" stroke="#222222" stroke-width="0.3" font-family="'DejaVu Sans', sans-serif">0</text>
<text transform="translate(193.37,626.06) rotate(0.02) scale(0.7869,1)" font-size="17.70" font-weight="normal" fill="#222222" stroke="#222222" stroke-width="0.3" font-family="'DejaVu Sans', sans-serif">10</text>
<text transform="translate(318.87,625.95) rotate(0.02) scale(0.8044,1)" font-size="17.70" font-weight="normal" fill="#222222" stroke="#222222" stroke-width="0.3" font-family="'DejaVu Sans', sans-serif">20</text>
<text transform="translate(443.56,626.43) rotate(0.02) scale(0.8065,1)" font-size="17.70" font-weight="normal" fill="#222222" stroke="#222222" stroke-width="0.3" font-family="'DejaVu Sans', sans-serif">30</text>
<text transform="translate(567.68,626.11) rotate(0.02) scale(0.8183,1)" font-size="17.70" font-weight="normal" fill="#222222" stroke="#222222" stroke-width="0.3" font-family="'DejaVu Sans', sans-serif">40</text>
<text transform="translate(693.55,626.47) rotate(0.02) scale(0.8138,1)" font-size="17.70" font-weight="normal" fill="#222222" stroke="#222222" stroke-width="0.3" font-family="'DejaVu Sans', sans-serif">50</text>
<text transform="translate(925.57,62.53) rotate(0.02) scale(0.8018,1)" font-size="17.70" font-weight="normal" fill="#222222" stroke="#222222" stroke-width="0.3" font-family="'DejaVu Sans', sans-serif">100</text>
<text transform="translate(935.90,172.05) rotate(0.02) scale(0.7813,1)" font-size="17.70" font-weight="normal" fill="#222222" stroke="#222222" stroke-width="0.3" font-family="'DejaVu Sans', sans-serif">80</text>
<text transform="translate(936.46,280.63) rotate(0.02) scale(0.7741,1)" font-size="17.70" font-weight="normal" fill="#222222" stroke="#222222" stroke-width="0.3" font-family="'DejaVu Sans', sans-serif">60</text>
<text transform="translate(936.03,390.45) rotate(0.02) scale(0.7845,1)" font-size="17.70" font-weight="normal" fill="#222222" stroke="#222222" stroke-width="0.3" font-family="'DejaVu Sans', sans-serif">40</text>
<text transform="translate(936.39,499.65) rotate(0.02) scale(0.7697,1)" font-size="17.70" font-weight="normal" fill="#222222" stroke="#222222" stroke-width="0.3" font-family="'DejaVu Sans', sans-serif">20</text>
<text transform="translate(945.95,607.68) rotate(0.02) scale(0.9780,1)" font-size="17.70" font-weight="normal" fill="#222222" stroke="#222222" stroke-width="0.3" font-family="'DejaVu Sans', sans-serif">0</text>
<text transform="translate(961.75,626.46) rotate(0.02) scale(0.9005,1)" font-size="17.70" font-weight="normal" fill="#222222" stroke="#222222" stroke-width="0.3" font-family="'DejaVu Sans', sans-serif">0</text>
<text transform="translate(1097.03,626.68) rotate(0.02) scale(0.8372,1)" font-size="17.70" font-weight="normal" fill="#222222" stroke="#222222" stroke-width="0.3" font-family="'DejaVu Sans', sans-serif">1</text>
<text transform="translate(1231.90,626.12) rotate(0.02) scale(0.9042,1)" font-size="17.70" font-weight="normal" fill="#222222" stroke="#222222" stroke-width="0.3" font-family="'DejaVu Sans', sans-serif">2</text>
<text transform="translate(1368.32,626.19) rotate(0.02) scale(0.9641,1)" font-size="17.70" font-weight="normal" fill="#222222" stroke="#222222" stroke-width="0.3" font-family="'DejaVu Sans', sans-serif">3</text>
<text transform="translate(1503.55,626.57) rotate(0.02) scale(0.9323,1)" font-size="17.70" font-weight="normal" fill="#222222" stroke="#222222" stroke-width="0.3" font-family="'DejaVu Sans', sans-serif">4</text>
<text transform="translate(1638.94,626.49) rotate(0.02) scale(0.9306,1)" font-size="17.70" font-weight="normal" fill="#222222" stroke="#222222" stroke-width="0.3" font-family="'DejaVu Sans', sans-serif">5</text>
<text transform="translate(-0.53,23.71) rotate(0.02) scale(1.0228,1)" font-size="29.21" font-weight="bold" fill="#0b0d10" font-family="'Liberation Sans', Arial, sans-serif">A</text>
<text transform="translate(891.54,23.52) rotate(0.02) scale(0.9558,1)" font-size="29.54" font-weight="bold" fill="#0b0d10" font-family="'Liberation Sans', Arial, sans-serif">B</text>
<text transform="translate(349.81,662.47) rotate(0.02) scale(0.9617,1)" font-size="31.96" font-weight="normal" fill="#0d0d0d" stroke="#0d0d0d" stroke-width="0.35" font-family="'DejaVu Sans', sans-serif">Dose(Gy)</text>
<text transform="translate(1233.86,662.43) rotate(0.02) scale(0.9419,1)" font-size="32.33" font-weight="normal" fill="#0d0d0d" stroke="#0d0d0d" stroke-width="0.35" font-family="'DejaVu Sans', sans-serif">Dose(Gy)</text>
<text transform="translate(26.13,419.09) rotate(-90) scale(1.1278,1)" font-size="30.10" font-weight="normal" fill="#0d0d0d" stroke="#0d0d0d" stroke-width="0.35" font-family="'DejaVu Sans', sans-serif">Volume(%)</text>
<text transform="translate(912.89,420.45) rotate(-90) scale(1.1571,1)" font-size="29.06" font-weight="normal" fill="#0d0d0d" stroke="#0d0d0d" stroke-width="0.35" font-family="'DejaVu Sans', sans-serif">Volume(%)</text>
<text transform="translate(135.86,555.54) rotate(0.02) scale(0.8430,1)" font-size="18.00" font-weight="normal" fill="#151515" stroke="#151515" stroke-width="0.5" font-family="'DejaVu Sans', sans-serif">Ovary_Left</text>
<text transform="translate(135.87,583.26) rotate(0.02) scale(0.8375,1)" font-size="18.00" font-weight="normal" fill="#151515" stroke="#151515" stroke-width="0.5" font-family="'DejaVu Sans', sans-serif">Ovary_Right</text>
<text transform="translate(1022.19,557.22) rotate(0.02) scale(0.8309,1)" font-size="18.00" font-weight="normal" fill="#151515" stroke="#151515" stroke-width="0.5" font-family="'DejaVu Sans', sans-serif">Ovary_Left</text>
<text transform="translate(1022.06,583.51) rotate(0.02) scale(0.8284,1)" font-size="18.00" font-weight="normal" fill="#151515" stroke="#151515" stroke-width="0.5" font-family="'DejaVu Sans', sans-serif">Ovary_Right</text>
</g>
</g>
</svg>
</body></html>
